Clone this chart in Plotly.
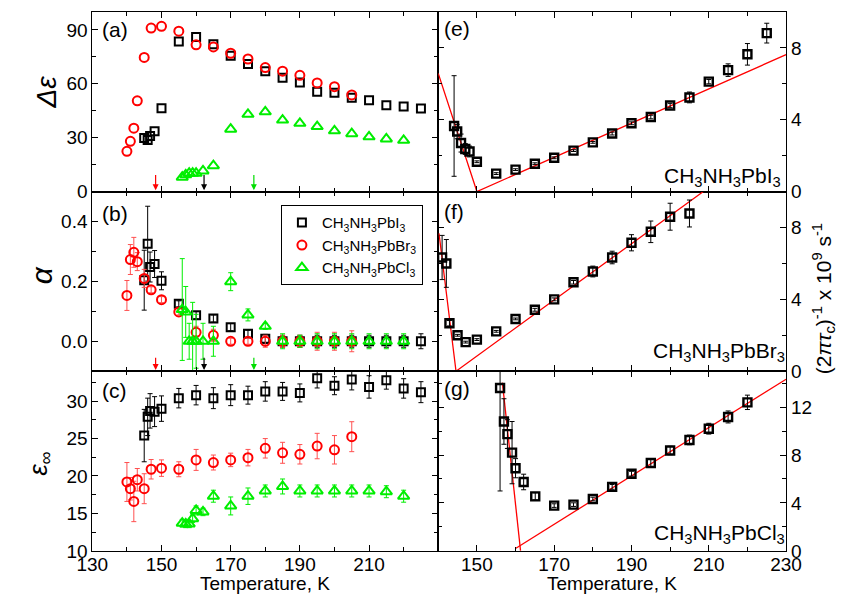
import plotly.graph_objects as go

# ---------------- data ----------------
# Panel (a): Delta epsilon
T_I = [145, 146, 146.7, 148, 150, 155, 160, 165, 170, 175, 180, 185, 190, 195, 200, 205, 210, 215, 220, 225]
T_Br = [140, 141, 142, 143, 145, 147, 150, 155, 160, 165, 170, 175, 180, 185, 190, 195, 200, 205]
T_Cl = [156, 157, 158, 159, 160, 162, 165, 170, 175, 180, 185, 190, 195, 200, 205, 210, 215, 220]

a_I = [29.8, 28.7, 31, 33.6, 46.4, 83.6, 86, 82, 75.6, 71, 67, 63.3, 60.7, 55.6, 55, 52.2, 50.9, 48, 47.3, 46.2]
a_Br = [22.4, 28, 35.3, 50.5, 74.7, 91, 92, 89.3, 81.7, 80.5, 77, 73.8, 69, 67, 64.7, 60.5, 58.4, 53.8]
a_Cl = [8, 9.3, 10.2, 10.2, 10.2, 11.5, 14.4, 34.7, 43, 44.4, 39.8, 38, 36.2, 33.8, 32.2, 30.5, 29.3, 28.5]

# Panel (b): alpha
b_I = [0.204, 0.326, 0.248, 0.258, 0.202, 0.125, 0.087, 0.076, 0.047, 0.025, 0.008, 0, 0, 0, 0, 0, 0, 0, 0, 0]
b_I_err = [0.10, 0.125, 0.05, 0.045, 0.03, 0.01, 0.012, 0.012, 0.012, 0.012, 0.015, 0.02, 0.02, 0.02, 0.02, 0.02, 0.02, 0.02, 0.02, 0.025]
b_Br = [0.153, 0.273, 0.297, 0.266, 0.21, 0.172, 0.139, 0.098, 0.03, 0.02, 0, 0, 0, 0, 0, 0, 0, 0]
b_Br_err = [0.05, 0.05, 0.05, 0.03, 0.03, 0.01, 0.01, 0.01, 0.02, 0.02, 0.01, 0.01, 0.02, 0.02, 0.02, 0.03, 0.03, 0.035]
b_Cl = [0.106, 0.098, 0, 0, 0, 0, 0, 0.199, 0.088, 0.05, 0, 0, 0, 0, 0, 0, 0, 0]
b_Cl_err = [0.17, 0.085, 0.06, 0.13, 0.09, 0.06, 0.05, 0.03, 0.02, 0.01, 0.025, 0.02, 0.025, 0.025, 0.025, 0.025, 0.025, 0.025]

# Panel (c): epsilon infinity
c_I = [25.4, 27.9, 28.7, 28.6, 29.0, 30.4, 30.8, 30.4, 30.8, 30.8, 31.3, 31.3, 31.1, 33.06, 32.06, 32.9, 31.9, 32.8, 31.7, 31.2]
c_I_err = [3.5, 2.5, 2.3, 2.0, 1.7, 1.3, 1.3, 1.4, 1.4, 1.2, 1.3, 1.2, 1.2, 1.3, 1.2, 1.4, 1.5, 1.2, 1.3, 1.4]
c_Br = [19.2, 18.3, 16.6, 19.5, 18.3, 20.9, 21.05, 20.9, 22.15, 21.8, 22.15, 22.45, 23.7, 23.1, 22.9, 24.0, 23.5, 25.25]
c_Br_err = [2.6, 1.5, 2.7, 1.5, 2.0, 1.3, 1.1, 1.0, 1.4, 1.0, 0.9, 1.1, 1.3, 1.4, 1.3, 1.7, 1.9, 2.0]
c_Cl = [13.7, 13.6, 13.6, 14.3, 15.4, 15.2, 17.3, 16.0, 17.3, 18.0, 18.6, 18.0, 18.0, 18.0, 18.0, 18.0, 17.9, 17.3]
c_Cl_err = [0.5, 0.5, 0.5, 0.5, 0.6, 0.5, 0.8, 1.2, 1.1, 0.8, 1.0, 0.8, 0.8, 0.8, 0.8, 0.8, 0.8, 0.8]

# Right panels: (2 pi tau_c)^-1 x 10^9 s^-1
e_T = [144.1, 144.9, 145.9, 147, 148.1, 150, 155, 160, 165, 170, 175, 180, 185, 190, 195, 200, 205, 210, 215, 220, 225]
e_v = [3.65, 3.34, 2.7, 2.37, 2.23, 1.66, 1.0, 1.22, 1.55, 1.88, 2.28, 2.74, 3.23, 3.8, 4.15, 4.79, 5.24, 6.12, 6.76, 7.64, 8.82]
e_err = [2.8, 0.4, 0.5, 0.3, 0.3, 0.05, 0.05, 0.05, 0.05, 0.05, 0.05, 0.05, 0.08, 0.08, 0.1, 0.12, 0.3, 0.12, 0.35, 0.6, 0.55]
e_fit_T = [140, 150, 230]
e_fit_v = [6.58, 0, 7.62]

f_T = [141, 142.1, 142.9, 145, 147.1, 150, 155, 160, 165, 170, 175, 180, 185, 190, 195, 200, 205]
f_v = [6.33, 6.0, 2.67, 2.0, 1.62, 1.76, 2.22, 2.91, 3.42, 4.0, 4.95, 5.55, 6.33, 7.15, 7.76, 8.6, 8.78]
f_err = [1.23, 1.33, 0.15, 0.05, 0.05, 0.05, 0.05, 0.05, 0.08, 0.08, 0.1, 0.3, 0.35, 0.45, 0.6, 0.75, 0.75]
f_fit_T = [140.2, 144.6, 208.6]
f_fit_v = [7.67, 0, 10]

g_T = [156, 157, 157.9, 159.1, 160, 162.1, 165.1, 170, 175, 180, 185, 190, 195, 200, 205, 210, 215, 220]
g_v = [13.6, 10.8, 9.75, 8.2, 6.9, 5.75, 4.55, 3.78, 3.86, 4.33, 5.34, 6.44, 7.34, 8.38, 9.26, 10.2, 11.18, 12.4]
g_err = [8.6, 1.9, 1.2, 2.6, 0.8, 0.65, 0.3, 0.15, 0.15, 0.15, 0.2, 0.2, 0.3, 0.35, 0.4, 0.45, 0.5, 0.6]
g_fit1_T = [156.6, 161.3]
g_fit1_v = [14.05, 0]
g_fit2_T = [160.1, 230]
g_fit2_v = [0.22, 14.33]

# transition temperatures (arrows)
trans_T = [148.3, 162.3, 176.7]
trans_col = ["#ff0000", "#000000", "#00dd00"]

names = ["CH<sub>3</sub>NH<sub>3</sub>PbI<sub>3</sub>",
         "CH<sub>3</sub>NH<sub>3</sub>PbBr<sub>3</sub>",
         "CH<sub>3</sub>NH<sub>3</sub>PbCl<sub>3</sub>"]

BLACK, RED, GREEN = "#000000", "#ff0000", "#00ee00"
FONT = "Liberation Sans, Arial, sans-serif"

fig = go.Figure()

def series(x, y, err, sym, col, size, xa, ya, name=None, show=False, errcol=None, lw=2.0):
    ed = None
    if err is not None:
        ed = dict(type="data", array=err, visible=True, color=errcol or col, thickness=1, width=2.5)
    fig.add_trace(go.Scatter(x=x, y=y, mode="markers", error_y=ed, name=name or "", showlegend=show,
                             marker=dict(symbol=sym, size=size, color=col, line=dict(width=lw, color=col)),
                             xaxis=xa, yaxis=ya))

# (a)
series(T_I, a_I, None, "square-open", BLACK, 8, "x", "y")
series(T_Br, a_Br, None, "circle-open", RED, 9, "x", "y")
series(T_Cl, a_Cl, None, "triangle-up-open", GREEN, 10, "x", "y")
# (b)
series(T_I, b_I, b_I_err, "square-open", BLACK, 8, "x2", "y2", names[0], True)
series(T_Br, b_Br, b_Br_err, "circle-open", RED, 9, "x2", "y2", names[1], True, errcol="#ff5050")
series(T_Cl, b_Cl, b_Cl_err, "triangle-up-open", GREEN, 10, "x2", "y2", names[2], True)
# (c)
series(T_I, c_I, c_I_err, "square-open", BLACK, 8, "x3", "y3")
series(T_Br, c_Br, c_Br_err, "circle-open", RED, 9, "x3", "y3", errcol="#ff5050")
series(T_Cl, c_Cl, c_Cl_err, "triangle-up-open", GREEN, 10, "x3", "y3")

# right panels
for (T, v, er, ft, fv, xa, ya) in [(e_T, e_v, e_err, e_fit_T, e_fit_v, "x4", "y4"),
                                   (f_T, f_v, f_err, f_fit_T, f_fit_v, "x5", "y5")]:
    fig.add_trace(go.Scatter(x=ft, y=fv, mode="lines", line=dict(color=RED, width=1.3),
                             showlegend=False, xaxis=xa, yaxis=ya))
    series(T, v, er, "square-open", BLACK, 8, xa, ya, lw=2.4)
fig.add_trace(go.Scatter(x=g_fit1_T, y=g_fit1_v, mode="lines", line=dict(color=RED, width=1.3),
                         showlegend=False, xaxis="x6", yaxis="y6"))
fig.add_trace(go.Scatter(x=g_fit2_T, y=g_fit2_v, mode="lines", line=dict(color=RED, width=1.3),
                         showlegend=False, xaxis="x6", yaxis="y6"))
series(g_T, g_v, g_err, "square-open", BLACK, 8, "x6", "y6", lw=2.4)

# ---------------- layout ----------------
W, H = 847, 599
L = [71 / W, 430.5 / W]
R = [430.5 / W, 792 / W]
rows = {"a": [412 / H, 595 / H], "b": [229 / H, 412 / H], "c": [46 / H, 229 / H]}

tickfont = dict(family=FONT, size=19, color="black")
common = dict(showline=True, linecolor="black", linewidth=1, mirror="allticks", ticks="inside",
              ticklen=6, tickcolor="black", showgrid=False, zeroline=False, tickfont=tickfont)

def xax(dom, anchor, rng, left, labels):
    d = dict(common, domain=dom, anchor=anchor, range=rng, ticklabelstandoff=-4)
    if left:
        d.update(tickmode="array", tickvals=[130, 150, 170, 190, 210],
                 minor=dict(tickmode="linear", tick0=130, dtick=10, ticks="inside", ticklen=4, tickcolor="black"))
    else:
        d.update(tickmode="array", tickvals=[150, 170, 190, 210, 230],
                 minor=dict(tickmode="linear", tick0=140, dtick=10, ticks="inside", ticklen=4, tickcolor="black"))
    d["showticklabels"] = labels
    return d

def yax(dom, anchor, rng, tickvals, minor_dtick, minor_tick0, side="left", fmt=None):
    d = dict(common, domain=dom, anchor=anchor, range=rng, tickmode="array", tickvals=tickvals, side=side,
             minor=dict(tickmode="linear", tick0=minor_tick0, dtick=minor_dtick, ticks="inside", ticklen=4, tickcolor="black"))
    if fmt:
        d["tickformat"] = fmt
    return d

fig.update_layout(
    xaxis=xax(L, "y", [130, 230], True, False),
    xaxis2=xax(L, "y2", [130, 230], True, False),
    xaxis3=xax(L, "y3", [130, 230], True, True),
    xaxis4=xax(R, "y4", [140, 230], False, False),
    xaxis5=xax(R, "y5", [140, 230], False, False),
    xaxis6=xax(R, "y6", [140, 230], False, True),
    yaxis=yax(rows["a"], "x", [0, 100], [0, 30, 60, 90], 15, 0),
    yaxis2=yax(rows["b"], "x2", [-0.1, 0.5], [0.0, 0.2, 0.4], 0.1, 0, fmt=".1f"),
    yaxis3=yax(rows["c"], "x3", [10, 34], [10, 15, 20, 25, 30], 2.5, 10),
    yaxis4=yax(rows["a"], "x4", [0, 10], [0, 4, 8], 2, 0, side="right"),
    yaxis5=yax(rows["b"], "x5", [0, 10], [0, 4, 8], 2, 0, side="right"),
    yaxis6=yax(rows["c"], "x6", [0, 15], [0, 4, 8, 12], 2, 0, side="right"),
    width=W, height=H, margin=dict(l=0, r=0, t=0, b=0),
    paper_bgcolor="white", plot_bgcolor="white",
    font=dict(family=FONT, color="black"),
    legend=dict(x=267 / W, y=(H - 201) / H, xanchor="left", yanchor="top",
                bgcolor="white", bordercolor="black", borderwidth=1,
                font=dict(family=FONT, size=15, color="black"), tracegroupgap=0),
)

ann = []
def paper_text(txt, x, y, size, xanchor="left", yanchor="middle", angle=0):
    ann.append(dict(text=txt, x=x / W, y=(H - y) / H, xref="paper", yref="paper", showarrow=False,
                    xanchor=xanchor, yanchor=yanchor, textangle=angle,
                    font=dict(family=FONT, size=size, color="black")))

for lab, x, y in [("(a)", 79, 22), ("(b)", 79, 209), ("(c)", 79, 390),
                  ("(e)", 434, 21), ("(f)", 434, 207), ("(g)", 434, 388)]:
    paper_text(lab, x, y, 21)

paper_text(names[0], 789, 187, 21, xanchor="right", yanchor="bottom")
paper_text(names[1], 793, 366, 21, xanchor="right", yanchor="bottom")
paper_text(names[2], 793, 551, 21, xanchor="right", yanchor="bottom")

paper_text("<i>Δε</i>", 23, 86, 28, xanchor="center", angle=-90)
paper_text("<i>α</i>", 18, 272, 30, xanchor="center", angle=-90)
paper_text("<i>ε</i><sub>∞</sub>", 16, 464, 26, xanchor="center", angle=-90)
paper_text("(2<i>πτ</i><sub>c</sub>)<sup>-1</sup> x 10<sup>9</sup> s<sup>-1</sup>", 831, 296, 21,
           xanchor="center", angle=-90)
paper_text("Temperature, K", 250, 586, 19, xanchor="center")
paper_text("Temperature, K", 611, 586, 19, xanchor="center")

# transition arrows in (a) and (b)
for T, col in zip(trans_T, trans_col):
    ann.append(dict(x=T, y=0.8, ax=T, ay=10.0, xref="x", yref="y", axref="x", ayref="y",
                    showarrow=True, arrowhead=2, arrowsize=1, arrowwidth=1.2, arrowcolor=col, text=""))
    ann.append(dict(x=T, y=-0.096, ax=T, ay=-0.05, xref="x2", yref="y2", axref="x2", ayref="y2",
                    showarrow=True, arrowhead=2, arrowsize=1, arrowwidth=1.2, arrowcolor=col, text=""))

fig.update_layout(annotations=ann)
fig.write_html("out.html")
